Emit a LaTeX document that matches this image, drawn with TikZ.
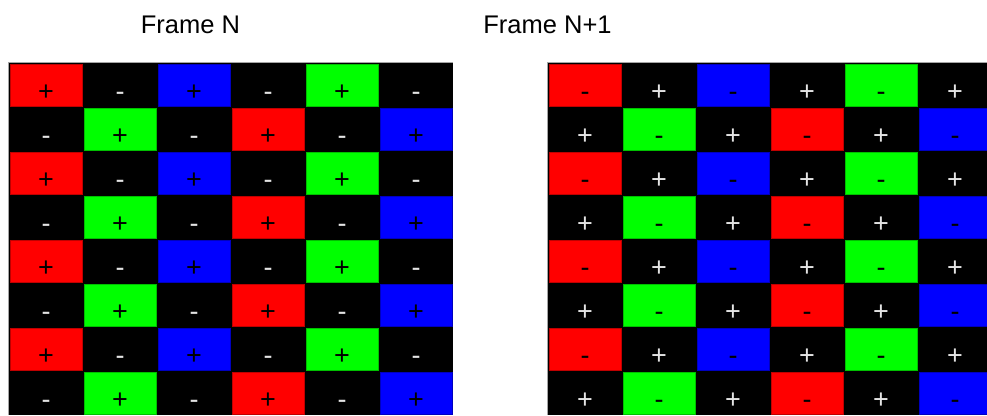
\documentclass[tikz,border=0pt]{standalone}
\usepackage{fontspec}
\setmainfont{Liberation Sans}
\definecolor{cellred}{RGB}{255,0,0}
\definecolor{cellgreen}{RGB}{0,255,0}
\definecolor{cellblue}{RGB}{0,0,255}
\definecolor{signlight}{RGB}{228,228,228}
\definecolor{edgegray}{RGB}{165,165,165}
\begin{document}
\begin{tikzpicture}[x=1pt,y=-1pt,
  sign/.style={font=\fontsize{27}{27}\selectfont,inner sep=0pt,anchor=base},
  frametitle/.style={font=\fontsize{25.5}{26}\selectfont,inner sep=0pt,anchor=base}]
  \useasboundingbox (0,0) rectangle (987,415);
  \clip (0,0) rectangle (987,415);
  \node[frametitle] (titleN) at (190.5,33) {Frame N};
  \node[frametitle] (titleNext) at (547.5,33) {Frame N+1};
  % two frames, signs swap between them
  \foreach \gx/\on/\off/\tag in {9/+/-/l,548/-/+/r}{
    \fill[black] (\gx,63) rectangle (\gx+444,415);
    \draw[edgegray,line width=1.5] (\gx-0.5,415) -- (\gx-0.5,62.5) -- (\gx+444,62.5);
    \foreach \r in {0,...,7}{
      \foreach \c in {0,...,5}{
        \pgfmathsetmacro\xa{\gx+74*\c}
        \pgfmathsetmacro\ya{63+44*\r}
        \pgfmathtruncatemacro\odd{mod(\r+\c,2)}
        \pgfmathtruncatemacro\k{mod(floor(\c/2)+2*mod(\r,2),3)}
        \ifnum\odd=0
          \ifcase\k \def\cc{cellred}\or \def\cc{cellblue}\or \def\cc{cellgreen}\fi
          \filldraw[fill=\cc,draw=\cc!75!black,line width=0.6] (\xa+1,\ya+1) rectangle (\xa+73,\ya+43);
          \node[sign,text=black] (\tag-\r-\c) at (\xa+37,\ya+37) {\on};
        \else
          \node[sign,text=signlight] (\tag-\r-\c) at (\xa+37,\ya+37) {\off};
        \fi
      }
    }
  }
\end{tikzpicture}
\end{document}
